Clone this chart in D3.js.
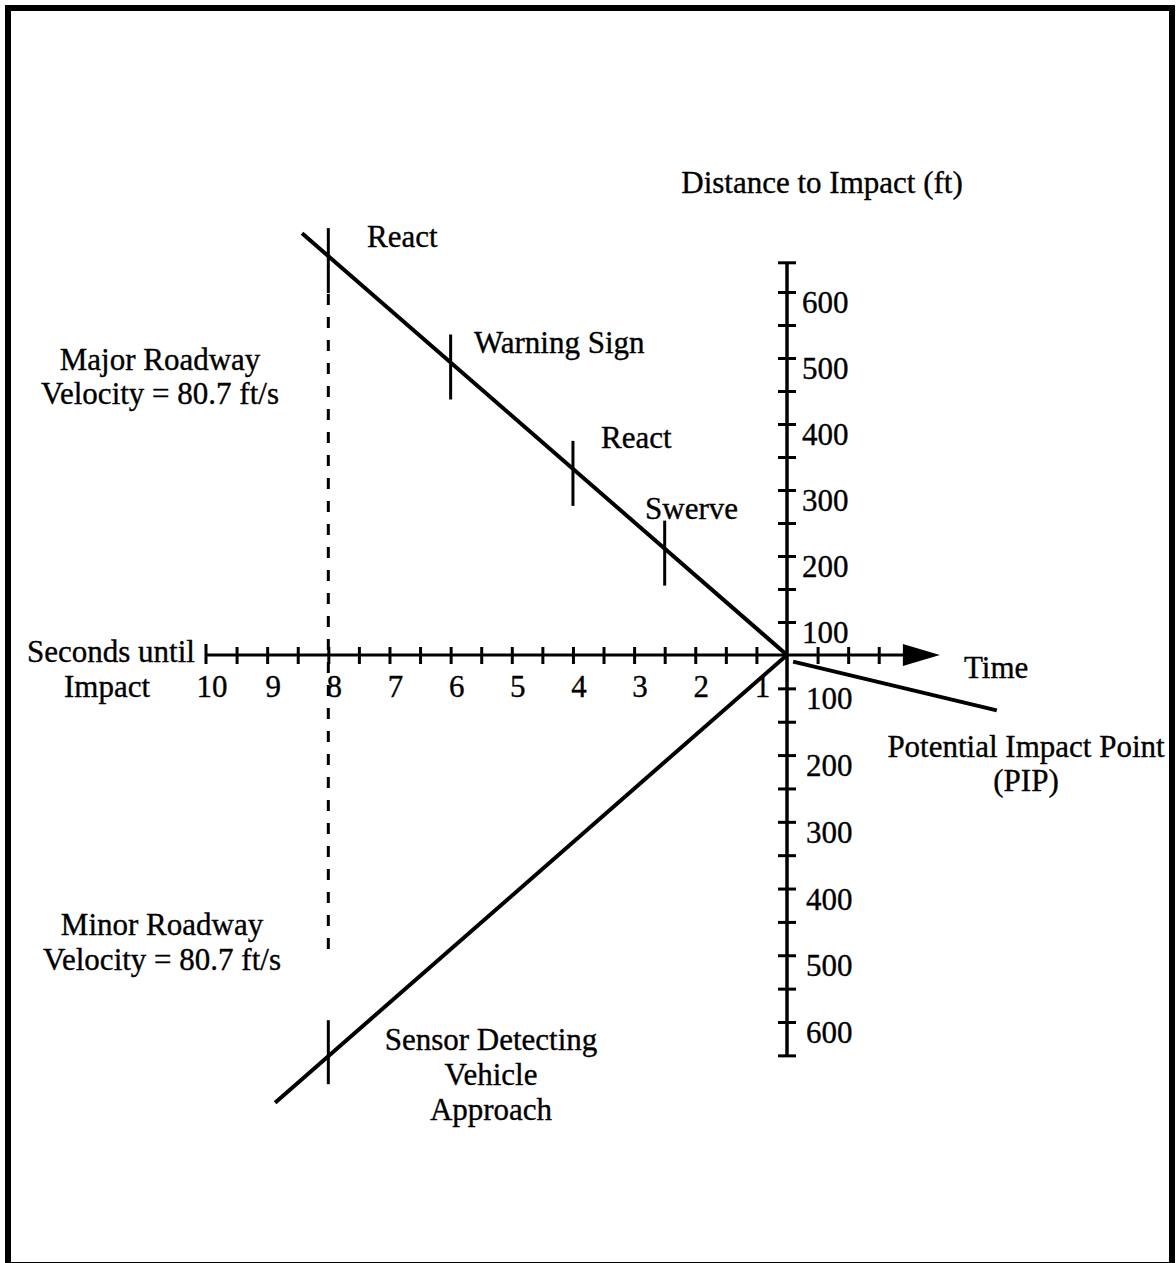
<!DOCTYPE html>
<html><head><meta charset="utf-8">
<script src="https://cdn.jsdelivr.net/npm/d3@7"></script>
<style>
html,body{margin:0;padding:0;background:#fff;}
svg{display:block;}
text{font-family:"Liberation Serif","Times New Roman",Times,serif;font-size:31px;fill:#000;stroke:#000;stroke-width:0.35px;}
</style>
</head><body>
<svg id="chart" width="1176" height="1263"></svg>
<script>
// ---- data ----
const timeLabels = [10, 9, 8, 7, 6, 5, 4, 3, 2, 1];
const timeTicks = [9.5, 9, 8.5, 8, 7.5, 7, 6.5, 6, 5.5, 5, 4.5, 4, 3.5, 3, 2.5, 2, 1.5, 1, 0, -0.5, -1];
const timeAxisStart = 10;
const timeAxisArrowTip = -2;
const axisOrigin = { t: 0.5, d: 50 };
const distLabels = [100, 200, 300, 400, 500, 600];
const distTicks = [100, 150, 200, 250, 300, 350, 400, 450, 500, 550, 600];
const distAxisEndUp = 645;
const distAxisEndDown = 650;
const majorRoad = [{ t: 8.43, d: 689 }, { t: 0.5, d: 50 }];
const minorRoad = [{ t: 8.87, d: 721 }, { t: 0.5, d: 50 }];
const pipLine = [{ t: 0.4, d: 60 }, { t: -2.93, d: 133 }];
const majorMarkers = [{ t: 8, label: "React" }, { t: 6, label: "Warning Sign" }, { t: 4, label: "React" }, { t: 2.5, label: "Swerve" }];
const minorMarkers = [{ t: 8, label: ["Sensor Detecting", "Vehicle", "Approach"] }];
const dashedGuide = { t: 8, fromUp: 597, toDown: 507 };
const majorTitle = ["Major Roadway", "Velocity = 80.7 ft/s"];
const minorTitle = ["Minor Roadway", "Velocity = 80.7 ft/s"];
const xTitle = ["Seconds until", "Impact"];
const yTitle = "Distance to Impact (ft)";
const timeTitle = "Time";
const pipTitle = ["Potential Impact Point", "(PIP)"];

// ---- layout ----
const svg = d3.select("#chart");
const x = d3.scaleLinear().domain([10, 0.5]).range([206, 787]);
const yUp = d3.scaleLinear().domain([50, 600]).range([655, 292]);
const yDown = d3.scaleLinear().domain([50, 600]).range([655, 1022]);
const ox = x(axisOrigin.t), oy = yUp(axisOrigin.d);

// frame
svg.append("rect").attr("x", 8).attr("y", 8).attr("width", 1164).attr("height", 1257)
  .attr("fill", "none").attr("stroke", "#000").attr("stroke-width", 6);

// horizontal time axis
const tipX = x(timeAxisArrowTip);
svg.append("line").attr("x1", x(timeAxisStart)).attr("x2", tipX - 34).attr("y1", oy).attr("y2", oy)
  .attr("stroke", "#000").attr("stroke-width", 3.2);
svg.append("path").attr("d", `M${tipX},${oy} L${tipX - 37},${oy - 11} L${tipX - 37},${oy + 11} Z`).attr("fill", "#000");

const tAxis = d3.axisBottom(x).tickValues(timeTicks).tickSize(17).tickFormat("");
svg.append("g").attr("transform", `translate(0,${oy - 8})`).call(tAxis)
  .call(g => g.select(".domain").remove())
  .call(g => g.selectAll(".tick line").attr("stroke", "#000").attr("stroke-width", 3));
// start cap
svg.append("line").attr("x1", x(timeAxisStart)).attr("x2", x(timeAxisStart)).attr("y1", oy - 11).attr("y2", oy + 9)
  .attr("stroke", "#000").attr("stroke-width", 3);
// time labels
svg.append("g").selectAll("text").data(timeLabels).join("text")
  .attr("x", d => x(d) + 6).attr("y", 697).attr("text-anchor", "middle").text(d => d);

// vertical distance axis
svg.append("line").attr("x1", ox).attr("x2", ox).attr("y1", yUp(distAxisEndUp)).attr("y2", yDown(distAxisEndDown))
  .attr("stroke", "#000").attr("stroke-width", 3.5);
const upAxis = d3.axisRight(yUp).tickValues(distTicks.concat([distAxisEndUp])).tickSize(18).tickFormat("");
svg.append("g").attr("transform", `translate(${ox - 9},0)`).call(upAxis)
  .call(g => g.select(".domain").remove())
  .call(g => g.selectAll(".tick line").attr("stroke", "#000").attr("stroke-width", 3));
const downAxis = d3.axisRight(yDown).tickValues(distTicks.concat([distAxisEndDown])).tickSize(18).tickFormat("");
svg.append("g").attr("transform", `translate(${ox - 9},0)`).call(downAxis)
  .call(g => g.select(".domain").remove())
  .call(g => g.selectAll(".tick line").attr("stroke", "#000").attr("stroke-width", 3));
svg.append("g").selectAll("text").data(distLabels).join("text")
  .attr("x", ox + 15).attr("y", d => yUp(d) + 21).text(d => d);
svg.append("g").selectAll("text").data(distLabels).join("text")
  .attr("x", ox + 19).attr("y", d => yDown(d) + 21).text(d => d);

// roadway lines
const lineUp = d3.line().x(p => x(p.t)).y(p => yUp(p.d));
const lineDown = d3.line().x(p => x(p.t)).y(p => yDown(p.d));
svg.append("path").attr("d", lineUp(majorRoad)).attr("stroke", "#000").attr("stroke-width", 4).attr("fill", "none");
svg.append("path").attr("d", lineDown(minorRoad)).attr("stroke", "#000").attr("stroke-width", 4).attr("fill", "none");
svg.append("path").attr("d", lineDown(pipLine)).attr("stroke", "#000").attr("stroke-width", 4).attr("fill", "none");

function dAt(seg, t) {
  const a = seg[0], b = seg[1];
  return a.d + (t - a.t) * (b.d - a.d) / (b.t - a.t);
}
// marker ticks
svg.append("g").selectAll("line").data(majorMarkers).join("line")
  .attr("x1", m => x(m.t)).attr("x2", m => x(m.t))
  .attr("y1", m => yUp(dAt(majorRoad, m.t)) - 28).attr("y2", m => yUp(dAt(majorRoad, m.t)) + 37)
  .attr("stroke", "#000").attr("stroke-width", 3);
svg.append("g").selectAll("line").data(minorMarkers).join("line")
  .attr("x1", m => x(m.t)).attr("x2", m => x(m.t))
  .attr("y1", m => yDown(dAt(minorRoad, m.t)) - 36).attr("y2", m => yDown(dAt(minorRoad, m.t)) + 28)
  .attr("stroke", "#000").attr("stroke-width", 3);
// dashed guide
svg.append("line").attr("x1", x(dashedGuide.t)).attr("x2", x(dashedGuide.t))
  .attr("y1", yUp(dashedGuide.fromUp)).attr("y2", yDown(dashedGuide.toDown))
  .attr("stroke", "#000").attr("stroke-width", 3).attr("stroke-dasharray", "11,12");

// marker labels
const markerLabelPos = [[367, 247], [474, 353], [601, 448], [645, 519]];
svg.append("g").selectAll("text").data(majorMarkers).join("text")
  .attr("x", (m, i) => markerLabelPos[i][0]).attr("y", (m, i) => markerLabelPos[i][1]).text(m => m.label);
function multiline(lines, cx, y0, dy, anchor) {
  const t = svg.append("text").attr("text-anchor", anchor || "middle");
  lines.forEach((s, i) => t.append("tspan").attr("x", cx).attr("y", y0 + i * dy).text(s));
}
multiline(minorMarkers[0].label, 491, 1050, 35);
multiline(majorTitle, 160, 370, 34);
multiline(minorTitle, 162, 935, 35);
svg.append("text").attr("x", 27).attr("y", 662).text(xTitle[0]);
svg.append("text").attr("x", 107).attr("y", 697).attr("text-anchor", "middle").text(xTitle[1]);
svg.append("text").attr("x", 822).attr("y", 193).attr("text-anchor", "middle").text(yTitle);
svg.append("text").attr("x", 964).attr("y", 678).text(timeTitle);
multiline(pipTitle, 1026, 757, 34);
</script>
</body></html>
